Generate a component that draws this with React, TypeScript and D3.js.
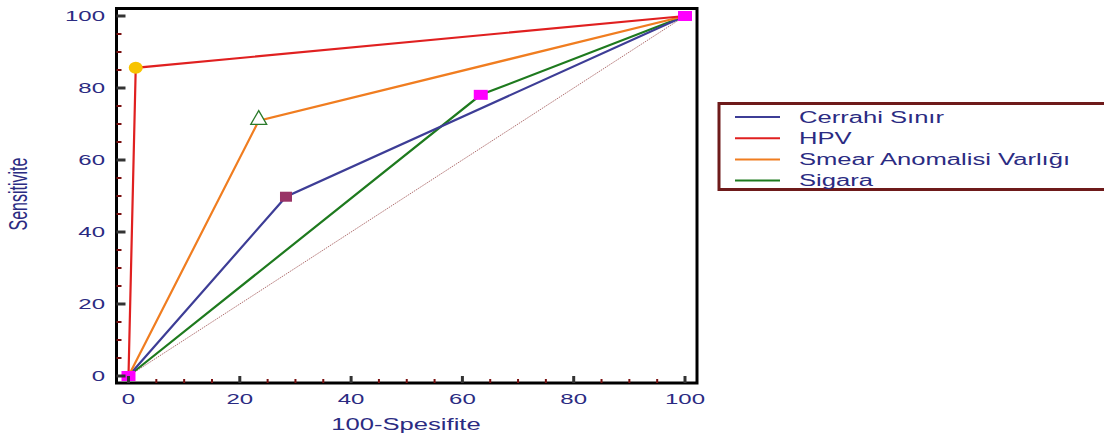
import * as d3 from "d3";

const W = 1104;
const H = 437;

// ROC curves
const seriesNames = ["Cerrahi Sınır", "HPV", "Smear Anomalisi Varlığı", "Sigara"];
const seriesColors = ["#3d3d96", "#e02020", "#f07d20", "#1e7a1e"];
const cerrahiX = [0, 28.3, 100];
const cerrahiY = [0, 49.8, 100];
const hpvX = [0, 1.3, 100];
const hpvY = [0, 85.6, 100];
const smearX = [0, 23.4, 100];
const smearY = [0, 70.9, 100];
const sigaraX = [0, 63.3, 100];
const sigaraY = [0, 78.1, 100];
const xTicks = [0, 20, 40, 60, 80, 100];
const yTicks = [0, 20, 40, 60, 80, 100];

const toPts = (xs: number[], ys: number[]) => xs.map((x, i) => [x, ys[i]] as [number, number]);

const font = "Arial, 'Liberation Sans', sans-serif";
const txt = "#2b2b82";
const STRETCH = 1.6; // the source picture is stretched sideways

function Label(props: { x: number; y: number; size: number; anchor?: string; dy?: string; rotate?: boolean; children: any }) {
  const { x, y, size, anchor = "start", dy, rotate, children } = props;
  return (
    <g transform={`translate(${x},${y}) scale(${STRETCH},1)${rotate ? " rotate(-90)" : ""}`}>
      <text textAnchor={anchor} dy={dy} fontFamily={font} fontSize={size} fill={txt}>
        {children}
      </text>
    </g>
  );
}

export default function App() {
  const x = d3.scaleLinear().domain([0, 100]).range([128.5, 685]);
  const y = d3.scaleLinear().domain([0, 100]).range([376, 16]);
  const line = d3
    .line<[number, number]>()
    .x((d) => x(d[0]))
    .y((d) => y(d[1]));

  const series = [
    toPts(cerrahiX, cerrahiY),
    toPts(hpvX, hpvY),
    toPts(smearX, smearY),
    toPts(sigaraX, sigaraY),
  ];
  // draw order: diagonal first, then sigara, cerrahi, smear, hpv
  const order = [3, 0, 2, 1];
  const minor = d3.range(0, 101, 5).filter((v) => v % 20 !== 0);

  const frame = { l: 116.5, t: 8.5, r: 697, b: 383 };

  return (
    <svg width={W} height={H} style={{ position: "absolute", left: 0, top: 0, background: "#fff" }}>
      {/* diagonal reference */}
      <line
        x1={x(0)}
        y1={y(0)}
        x2={x(100)}
        y2={y(100)}
        stroke="#b07070"
        strokeWidth={1}
        strokeDasharray="1.5,1"
      />
      {order.map((i) => (
        <path key={i} d={line(series[i]) || ""} fill="none" stroke={seriesColors[i]} strokeWidth={2.2} />
      ))}
      {/* markers */}
      <rect x={x(cerrahiX[1]) - 6} y={y(cerrahiY[1]) - 5} width={12} height={10} fill="#993366" />
      <ellipse cx={x(hpvX[1])} cy={y(hpvY[1])} rx={7} ry={6} fill="#f8c400" />
      <path
        d={d3.symbol().type(d3.symbolTriangle).size(110)() || ""}
        transform={`translate(${x(smearX[1])},${y(smearY[1]) - 1})`}
        fill="#fff"
        stroke="#2a7a2a"
        strokeWidth={1.3}
      />
      <rect x={x(sigaraX[1]) - 7} y={y(sigaraY[1]) - 5} width={14} height={10} fill="#ff00ff" />
      <rect x={x(0) - 7} y={y(0) - 5} width={14} height={10} fill="#ff00ff" />
      <rect x={x(100) - 7} y={y(100) - 5} width={14} height={10} fill="#ff00ff" />

      {/* frame */}
      <rect
        x={frame.l}
        y={frame.t}
        width={frame.r - frame.l}
        height={frame.b - frame.t}
        fill="none"
        stroke="#000"
        strokeWidth={3}
      />
      {/* ticks */}
      {xTicks.map((t) => (
        <line key={"xt" + t} x1={x(t)} x2={x(t)} y1={frame.b} y2={frame.b - 7} stroke="#333" strokeWidth={3} />
      ))}
      {minor.map((t) => (
        <line key={"xm" + t} x1={x(t)} x2={x(t)} y1={frame.b} y2={frame.b - 4} stroke="#7a1010" strokeWidth={2} />
      ))}
      {yTicks.map((t) => (
        <line key={"yt" + t} x1={frame.l} x2={frame.l + 9} y1={y(t)} y2={y(t)} stroke="#333" strokeWidth={3} />
      ))}
      {minor.map((t) => (
        <line key={"ym" + t} x1={frame.l} x2={frame.l + 5} y1={y(t)} y2={y(t)} stroke="#7a1010" strokeWidth={2} />
      ))}
      {/* tick labels */}
      {xTicks.map((t) => (
        <Label key={"xl" + t} x={x(t)} y={404} size={15} anchor="middle">
          {t}
        </Label>
      ))}
      {yTicks.map((t) => (
        <Label key={"yl" + t} x={105} y={y(t)} size={15} anchor="end" dy="0.35em">
          {t}
        </Label>
      ))}
      <Label x={406} y={430} size={16} anchor="middle">
        100-Spesifite
      </Label>
      <Label x={27} y={194} size={16} anchor="middle" rotate>
        Sensitivite
      </Label>

      {/* legend */}
      <rect x={719} y={103.5} width={390} height={86} fill="#fff" stroke="#6e1a1a" strokeWidth={3} />
      {seriesNames.map((n, i) => (
        <g key={n}>
          <line
            x1={735}
            x2={780}
            y1={117 + i * 21.2}
            y2={117 + i * 21.2}
            stroke={seriesColors[i]}
            strokeWidth={2}
          />
          <Label x={799} y={117 + i * 21.2} size={16} dy="0.35em">
            {n}
          </Label>
        </g>
      ))}
    </svg>
  );
}
